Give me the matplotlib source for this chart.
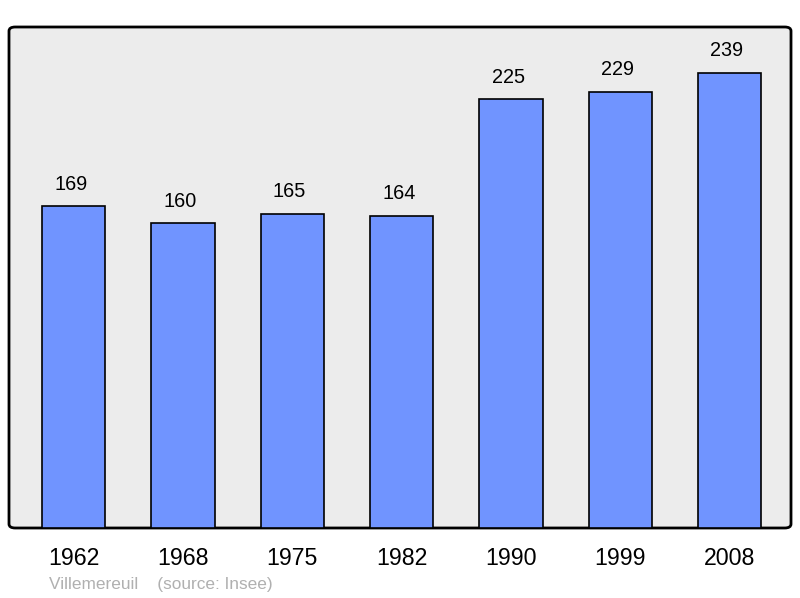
import matplotlib.pyplot as plt
from matplotlib.patches import FancyBboxPatch

years = ['1962', '1968', '1975', '1982', '1990', '1999', '2008']
population = [169, 160, 165, 164, 225, 229, 239]

plt.rcParams['font.family'] = ['Liberation Sans', 'DejaVu Sans']

fig = plt.figure(figsize=(8, 5.98), dpi=100)
ax = fig.add_axes([9 / 800, 1 - 528 / 598, 782 / 800, 501 / 598])
ax.set_facecolor('none')

# rounded grey panel with black border
panel = FancyBboxPatch((0, 0), 1, 1, boxstyle='round,pad=0,rounding_size=0.008',
                       transform=ax.transAxes, facecolor='#ececec',
                       edgecolor='black', linewidth=2, zorder=0, clip_on=False)
ax.add_patch(panel)

x = range(len(years))
ax.bar(x, population, width=0.58, color='#7094ff', edgecolor='black',
       linewidth=1.2, zorder=2)

for xi, v in zip(x, population):
    ax.annotate(str(v), (xi, v), xytext=(-2, 9), textcoords='offset points',
                ha='center', va='bottom', fontsize=14.3, color='black')

ax.set_xlim(-0.59, 6.56)
ax.set_ylim(0, 263)
ax.set_xticks(list(x))
ax.set_xticklabels(years, fontsize=16.7)
ax.tick_params(axis='x', length=0, pad=14)
ax.set_yticks([])
for s in ax.spines.values():
    s.set_visible(False)

fig.text(49 / 800, 1 - 584 / 598, 'Villemereuil    (source: Insee)',
         fontsize=12.4, color='#b0b0b0', va='center', ha='left')

plt.savefig('out.png', dpi=100)
